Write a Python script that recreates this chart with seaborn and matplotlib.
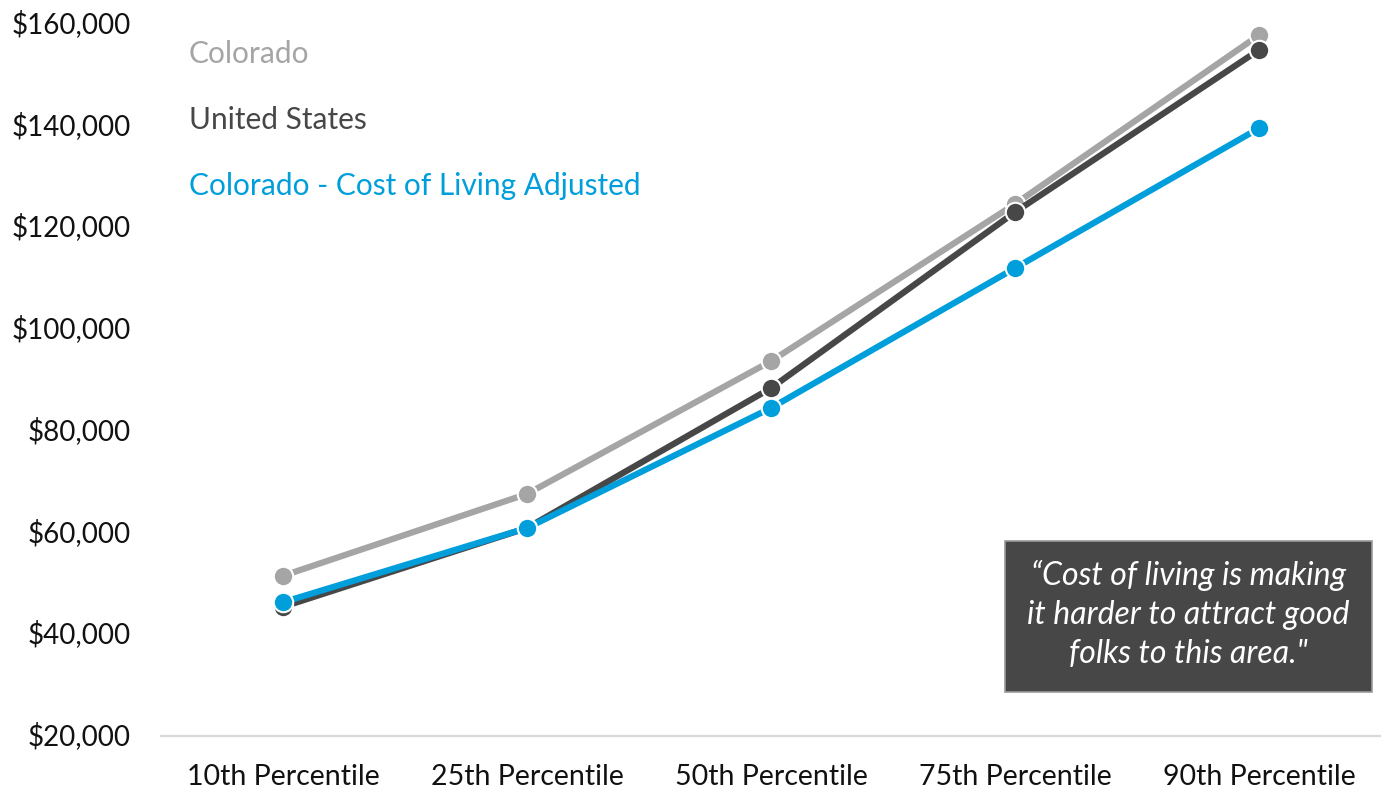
import matplotlib
matplotlib.use("Agg")
import matplotlib.pyplot as plt
from matplotlib.patches import Rectangle
import seaborn as sns
import pandas as pd

percentiles = ["10th Percentile", "25th Percentile", "50th Percentile",
               "75th Percentile", "90th Percentile"]
colorado = [51500, 67600, 93700, 124600, 157800]
united_states = [45400, 60900, 88400, 123000, 154900]
colorado_col_adjusted = [46300, 60900, 84500, 112000, 139500]
series_names = ["Colorado", "United States", "Colorado - Cost of Living Adjusted"]
y_ticks = [20000, 40000, 60000, 80000, 100000, 120000, 140000, 160000]
quote_text = "\u201cCost of living is making\nit harder to attract good\nfolks to this area.\""

colors = {"Colorado": "#A5A5A5",
          "United States": "#474747",
          "Colorado - Cost of Living Adjusted": "#009FDB"}

rows = []
for name, vals in zip(series_names, [colorado, united_states, colorado_col_adjusted]):
    for p, v in zip(percentiles, vals):
        rows.append({"Percentile": p, "Salary": v, "Series": name})
df = pd.DataFrame(rows)

sns.set_theme(style="white")
plt.rcParams["font.family"] = ["Lato", "DejaVu Sans"]

W, H = 1381, 791
fig = plt.figure(figsize=(W / 100, H / 100), dpi=100)
ax = fig.add_axes([161 / W, (H - 736) / H, (W - 161) / W, (736 - 24) / H])

sns.lineplot(data=df, x="Percentile", y="Salary", hue="Series",
             hue_order=series_names, palette=colors, marker="o",
             markersize=14, markeredgecolor="white", markeredgewidth=1.5,
             linewidth=4.5, legend=False, ax=ax, sort=False)

ax.set_xlim(-0.5, 4.5)
ax.set_ylim(20000, 160000)
ax.set_yticks(y_ticks)
ax.set_yticklabels([f"${v:,.0f}" for v in y_ticks])
ax.set_xticks(range(len(percentiles)))
ax.set_xticklabels(percentiles)
ax.set_xlabel("")
ax.set_ylabel("")
ax.tick_params(axis="both", length=0, labelsize=20, colors="#111111")
ax.tick_params(axis="y", pad=22)
ax.tick_params(axis="x", pad=20, labelsize=20.5)
for lbl in ax.get_yticklabels():
    lbl.set_va("center")

for side in ["top", "right", "left"]:
    ax.spines[side].set_visible(False)
ax.spines["bottom"].set_color("#D9D9D9")
ax.spines["bottom"].set_linewidth(1.6)
ax.grid(False)

# Series labels
label_y = [54, 120, 186]
for name, y in zip(series_names, label_y):
    fig.text(189 / W, 1 - y / H, name, color=colors[name], fontsize=21.5,
             ha="left", va="center")

# Quote box
x0, x1, y0, y1 = 1005, 1372, 541, 692
fig.patches.append(Rectangle((x0 / W, 1 - y1 / H), (x1 - x0) / W, (y1 - y0) / H,
                             transform=fig.transFigure, facecolor="#474747",
                             edgecolor="#9A9A9A", linewidth=1.2))
fig.text((x0 + x1) / 2 / W, 1 - 614 / H, quote_text, color="white", fontsize=23,
         style="italic", ha="center", va="center", linespacing=1.38)

fig.savefig("out.png", dpi=100)
